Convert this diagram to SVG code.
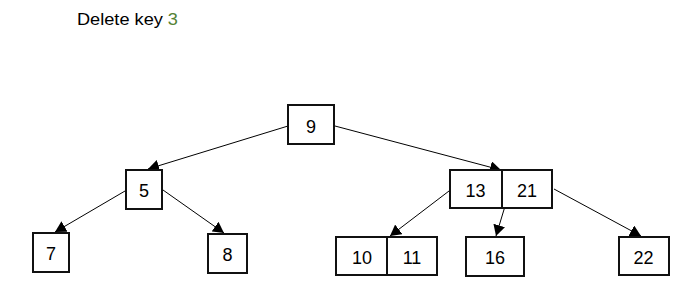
<svg xmlns="http://www.w3.org/2000/svg" width="700" height="294" viewBox="0 0 700 294">
<defs>
<marker id="ah" markerUnits="userSpaceOnUse" markerWidth="12" markerHeight="12" refX="11" refY="6" orient="auto">
<path d="M0,0 L11,6 L0,12 z" fill="#000"/>
</marker>
<style>
.box{fill:#fff;stroke:#111;stroke-width:2}
.div{stroke:#111;stroke-width:2}
.lbl{font-family:"Liberation Sans",Arial,sans-serif;font-size:18px;fill:#000;text-anchor:middle}
.edge{stroke:#000;stroke-width:1;fill:none;marker-end:url(#ah)}
</style>
</defs>
<rect width="700" height="294" fill="#fff"/>
<text x="77" y="25" font-family="'Liberation Sans',Arial,sans-serif" font-size="17" textLength="101" lengthAdjust="spacingAndGlyphs" fill="#000">Delete key <tspan fill="#548235">3</tspan></text>
<g id="connectors">
<line class="edge" x1="288" y1="126" x2="148" y2="169"/>
<line class="edge" x1="335" y1="126" x2="501" y2="170"/>
<line class="edge" x1="125" y1="191" x2="55" y2="232"/>
<line class="edge" x1="163" y1="190" x2="224" y2="233"/>
<line class="edge" x1="449" y1="191" x2="390" y2="236"/>
<line class="edge" x1="509" y1="193" x2="496" y2="236"/>
<line class="edge" x1="554" y1="189" x2="641" y2="236"/>
</g>
<g id="n9"><rect class="box" x="288" y="105" width="46" height="39"/><text class="lbl" x="311" y="133">9</text></g>
<g id="n5"><rect class="box" x="126" y="170" width="36" height="39"/><text class="lbl" x="144" y="197">5</text></g>
<g id="n7"><rect class="box" x="33" y="233" width="36" height="39"/><text class="lbl" x="51" y="260">7</text></g>
<g id="n8"><rect class="box" x="208" y="234" width="39" height="39"/><text class="lbl" x="227.5" y="261">8</text></g>
<g id="n13_21"><rect class="box" x="450" y="170" width="102" height="38"/><line class="div" x1="502" y1="170" x2="502" y2="208"/><text class="lbl" x="475.5" y="197">13</text><text class="lbl" x="527" y="197">21</text></g>
<g id="n10_11"><rect class="box" x="336" y="237" width="101" height="38"/><line class="div" x1="387" y1="237" x2="387" y2="275"/><text class="lbl" x="362" y="264">10</text><text class="lbl" x="412" y="264">11</text></g>
<g id="n16"><rect class="box" x="466" y="237" width="58" height="39"/><text class="lbl" x="495" y="264">16</text></g>
<g id="n22"><rect class="box" x="619" y="237" width="50" height="38"/><text class="lbl" x="643.5" y="264">22</text></g>
</svg>
